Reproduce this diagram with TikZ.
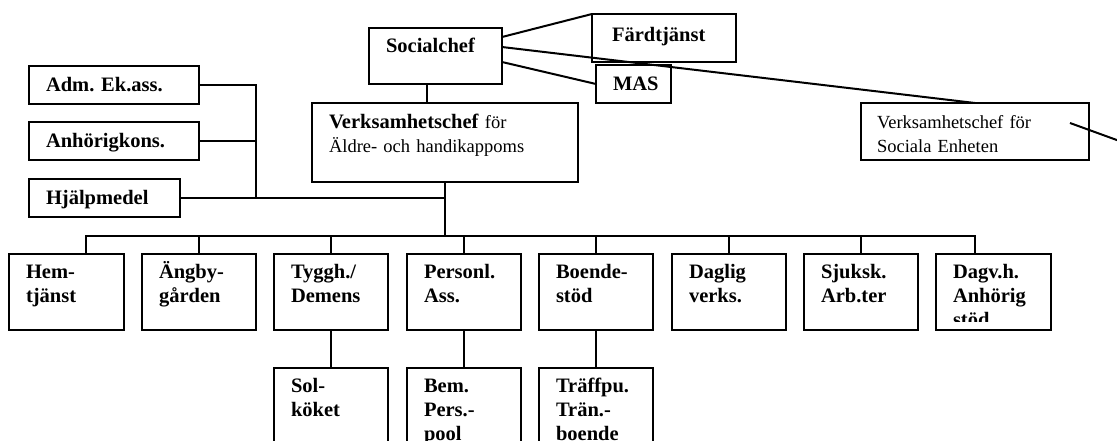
\documentclass[tikz,border=0pt]{standalone}
\usepackage{fontspec}
\setmainfont{Liberation Serif}
\usepackage{tikz}
\usetikzlibrary{positioning}
\hyphenpenalty=10000
\exhyphenpenalty=10000
\frenchspacing

\begin{document}
\begin{tikzpicture}[
  x=1pt, y=-1pt,
  box/.style={
    rectangle,
    draw=black,
    line width=2pt,
    anchor=north west,
    inner xsep=17pt,
    inner ysep=0pt,
    outer sep=0pt,
    align=left,
    font=\bfseries\fontsize{20.5}{24}\selectfont
  },
  plainbox/.style={
    box,
    font=\mdseries\fontsize{18.5}{24}\selectfont
  },
  staff/.style={box, text width=136pt, text height=25pt, text depth=12.5pt},
  unit/.style={box, text width=80pt, text height=24pt, text depth=52pt},
  link/.style={draw=black, line width=2pt}
]
\useasboundingbox (0,0) rectangle (1117,440);

% top level
\node[box, text width=99pt, text height=24pt, text depth=32pt] (soc) at (369,28) {Socialchef};
\node[box, inner xsep=20pt, text width=104pt, text height=27pt, text depth=21pt] (fard) at (592,14) {Färdtjänst};
\node[box, text width=41pt, text height=25pt, text depth=13pt] (mas) at (596,65) {MAS};
\node[plainbox, text width=232pt, text height=25pt, text depth=54pt] (verks) at (312,103) {
  \textbf{\fontsize{20.5}{24}\selectfont Verksamhetschef} för\\
  Äldre- och handikappoms
};
\node[plainbox, inner xsep=16pt, text width=196pt, text height=25pt, text depth=32pt] (sociala) at (861,103) {
  Verksamhetschef för\\
  Sociala Enheten
};

% staff
\node[staff] (adm) at (29,66) {Adm. Ek.ass.};
\node[staff, text depth=13pt] (anh) at (29,122) {Anhörigkons.};
\node[staff, text width=117pt, text depth=13pt] (hjalp) at (29,179) {Hjälpmedel};

% units
\node[unit, text width=81pt] (hem) at (9,254) {Hem-\\tjänst};
\node[unit] (angby) at (142,254) {Ängby-\\gården};
\node[unit] (tyggh) at (274,254) {Tyggh./\\Demens};
\node[unit] (pers) at (407,254) {Personl.\\Ass.};
\node[unit] (boende) at (539,254) {Boende-\\stöd};
\node[unit] (daglig) at (672,254) {Daglig\\verks.};
\node[unit] (sjuksk) at (804,254) {Sjuksk.\\Arb.ter};
\begin{scope}
  \clip (930,248) rectangle (1058,321);
  \node[unit, text width=81pt] (dagv) at (936,254) {Dagv.h.\\Anhörig\\stöd};
\end{scope}
\draw[link] (dagv.north west) rectangle (dagv.south east);

% sub units
\node[unit] (sol) at (274,368) {Sol-\\köket};
\node[unit] (bem) at (407,368) {Bem.\\Pers.-\\pool};
\node[unit] (traff) at (539,368) {Träffpu.\\Trän.-\\boende};

\coordinate (hub) at (445,236);
\coordinate (staffbar) at (256,198);
\coordinate (tail) at (1125,143);

\draw[link] ([xshift=-9pt]soc.south) -- ([xshift=-9pt]soc.south |- verks.north);
\draw[link] ([yshift=-9pt]soc.north east) -- (fard.north west);
\draw[link] ([yshift=-19pt]soc.north east) -- (sociala.north);
\draw[link] ([yshift=-34pt]soc.north east) -- (mas.west);
\draw[link] ([xshift=-19pt,yshift=8.5pt]sociala.east) -- (tail);

\draw[link] (adm.east) -| (staffbar);
\draw[link] (anh.east) -- (anh.east -| staffbar);
\draw[link] (hjalp.east) -- (hjalp.east -| verks.south);

\draw[link] (verks.south) -- (hub);
\draw[link] ([xshift=19.5pt]hem.north) |- (hub) -| ([xshift=-18.5pt]dagv.north);
\draw[link] (angby.north) -- (angby.north |- hub);
\draw[link] (tyggh.north) -- (tyggh.north |- hub);
\draw[link] (pers.north) -- (pers.north |- hub);
\draw[link] (boende.north) -- (boende.north |- hub);
\draw[link] (daglig.north) -- (daglig.north |- hub);
\draw[link] (sjuksk.north) -- (sjuksk.north |- hub);

\draw[link] (tyggh.south) -- (sol.north);
\draw[link] (pers.south) -- (bem.north);
\draw[link] (boende.south) -- (traff.north);

\end{tikzpicture}
\end{document}
